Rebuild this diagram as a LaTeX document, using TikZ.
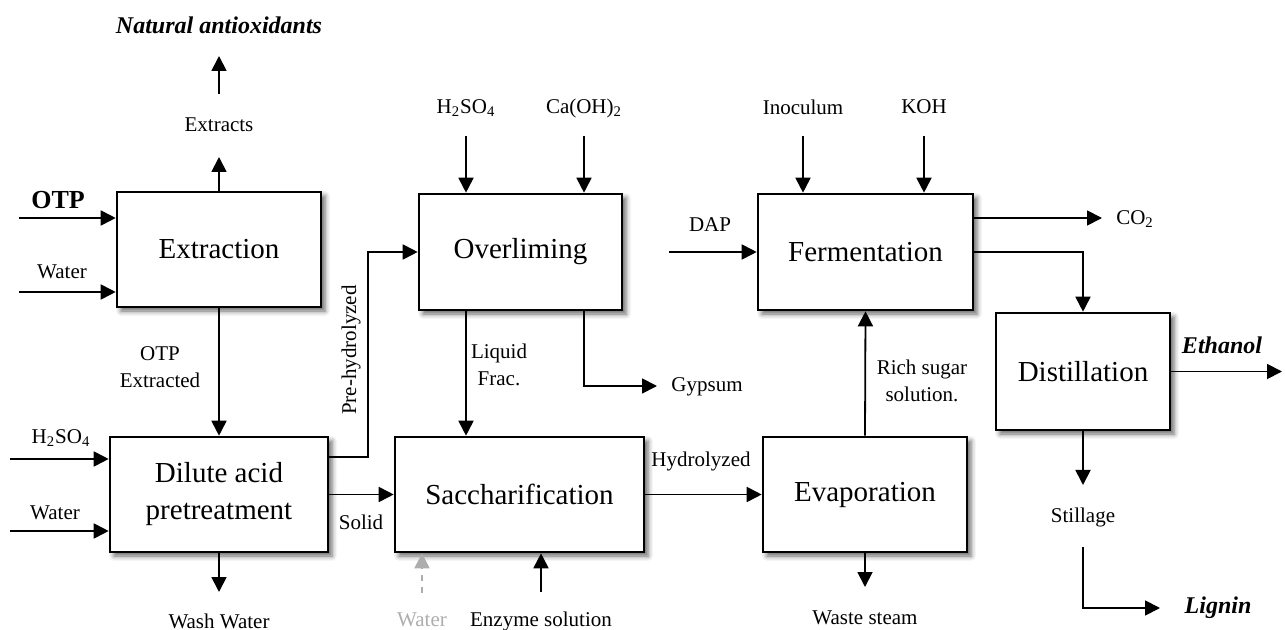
\documentclass[tikz,border=0pt]{standalone}
\usepackage{fontspec}
\setmainfont{Liberation Serif}
\usetikzlibrary{arrows.meta,shadows.blur}

\tikzset{
  unit/.style={draw, line width=1.3pt, fill=white, align=center,
    font=\fontsize{14.5}{18.5}\selectfont,
    blur shadow={shadow xshift=2pt, shadow yshift=-2pt, shadow blur radius=2.5pt, shadow opacity=60}},
  lbl/.style={font=\fontsize{10.5}{13.5}\selectfont, align=center, inner sep=0pt},
  prod/.style={font=\fontsize{12}{14}\selectfont\bfseries\itshape, inner sep=0pt},
  flow/.style={line width=0.9pt, -{Triangle[length=7.5pt,width=7.5pt]}},
  optflow/.style={flow, dashed, draw=black!32, color=black!32}
}

\begin{document}
\begin{tikzpicture}[x=0.5pt, y=-0.5pt]
\useasboundingbox (0,0) rectangle (1285,630);

% Process units
\node[unit, minimum width=102pt, minimum height=57.5pt] (ext) at (219,249.5) {Extraction};
\node[unit, minimum width=109pt, minimum height=57.5pt] (dil) at (219,494.5) {Dilute acid\\pretreatment};
\node[unit, minimum width=101.5pt, minimum height=58pt] (ovl) at (520.5,252) {Overliming};
\node[unit, minimum width=124.5pt, minimum height=57.5pt] (sac) at (519.5,494.5) {Saccharification};
\node[unit, minimum width=107.5pt, minimum height=58pt] (fer) at (865.5,252) {Fermentation};
\node[unit, minimum width=102pt, minimum height=57.5pt] (eva) at (865,494.5) {Evaporation};
\node[unit, minimum width=87pt, minimum height=58.5pt] (dis) at (1083,371.5) {Distillation};

% Stream labels
\node[lbl, font=\fontsize{13}{15}\selectfont\bfseries] (otp) at (58,200) {OTP};
\node[lbl] (water1) at (62,272) {Water};
\node[lbl] (extracts) at (219,125) {Extracts};
\node[prod] (natural) at (219,25) {Natural antioxidants};
\node[lbl] (otpext) at (160,367) {OTP\\Extracted};
\node[lbl] (acid1) at (61,438) {H\textsubscript{2}SO\textsubscript{4}};
\node[lbl] (water2) at (55,513) {Water};
\node[lbl] (wash) at (219,621) {Wash Water};
\node[lbl, rotate=90] (prehyd) at (351,350) {Pre-hydrolyzed};
\node[lbl] (solid) at (361,522) {Solid};
\node[lbl] (acid2) at (466,108) {H\textsubscript{2}SO\textsubscript{4}};
\node[lbl] (lime) at (584,108) {Ca(OH)\textsubscript{2}};
\node[lbl] (liquid) at (499,365) {Liquid\\Frac.};
\node[lbl] (gypsum) at (707,387) {Gypsum};
\node[lbl] (hydro) at (701,461) {Hydrolyzed};
\node[lbl, text=black!32] (water3) at (422,620) {Water};
\node[lbl] (enzyme) at (541,621) {Enzyme solution};
\node[lbl] (inoc) at (803,107) {Inoculum};
\node[lbl] (koh) at (924,107) {KOH};
\node[lbl] (dap) at (710,225) {DAP};
\node[lbl] (co2) at (1135,219) {CO\textsubscript{2}};
\node[lbl] (rich) at (922,381) {Rich sugar\\solution.};
\node[lbl] (waste) at (865,618) {Waste steam};
\node[prod] (ethanol) at (1222,345) {Ethanol};
\node[lbl] (still) at (1083,517) {Stillage};
\node[prod] (lignin) at (1218,608) {Lignin};

% Free ends of the streams
\coordinate (otp in) at (19,218);
\coordinate (water1 in) at (19,292);
\coordinate (acid1 in) at (10,459);
\coordinate (water2 in) at (10,531);
\coordinate (extracts tip) at (219,157);
\coordinate (natural tail) at (219,94);
\coordinate (natural tip) at (219,56);
\coordinate (wash tip) at (219,592);
\coordinate (prehyd turn) at (368,457);
\coordinate (acid2 in) at (466,136);
\coordinate (lime in) at (584,136);
\coordinate (gypsum tip) at (657,386);
\coordinate (water3 in) at (422,593);
\coordinate (enzyme in) at (541,592);
\coordinate (inoc in) at (803,136);
\coordinate (koh in) at (924,136);
\coordinate (dap in) at (669,252);
\coordinate (co2 tip) at (1102,218);
\coordinate (waste tip) at (865,587);
\coordinate (ethanol tip) at (1282,371.5);
\coordinate (still tip) at (1083,485);
\coordinate (lignin tail) at (1083,547);
\coordinate (lignin tip) at (1160,608);

% Extraction
\draw[flow] (otp in) -- (ext.west |- otp in);
\draw[flow] (water1 in) -- (ext.west |- water1 in);
\draw[flow] (ext.north) -- (extracts tip);
\draw[flow] (natural tail) -- (natural tip);
\draw[flow] (ext.south) -- (dil.north);

% Pretreatment
\draw[flow] (acid1 in) -- (dil.west |- acid1 in);
\draw[flow] (water2 in) -- (dil.west |- water2 in);
\draw[flow] (dil.south) -- (wash tip);
\draw[flow] (dil.east |- prehyd turn) -- (prehyd turn) |- (ovl.west);
\draw[flow] (dil.east) -- (sac.west);

% Overliming and saccharification
\draw[flow] (acid2 in) -- (ovl.north -| acid2 in);
\draw[flow] (lime in) -- (ovl.north -| lime in);
\draw[flow] (ovl.south -| acid2 in) -- (sac.north -| acid2 in);
\draw[flow] (ovl.south -| lime in) |- (gypsum tip);
\draw[optflow] (water3 in) -- (sac.south -| water3 in);
\draw[flow] (enzyme in) -- (sac.south -| enzyme in);
\draw[flow] (sac.east) -- (eva.west);

% Evaporation and fermentation
\draw[flow] (eva.north) -- (fer.south);
\draw[flow] (eva.south) -- (waste tip);
\draw[flow] (inoc in) -- (fer.north -| inoc in);
\draw[flow] (koh in) -- (fer.north -| koh in);
\draw[flow] (dap in) -- (fer.west);
\draw[flow] (fer.east |- co2 tip) -- (co2 tip);
\draw[flow] (fer.east) -| (dis.north);

% Distillation
\draw[flow] (dis.east) -- (ethanol tip);
\draw[flow] (dis.south) -- (still tip);
\draw[flow] (lignin tail) |- (lignin tip);
\end{tikzpicture}
\end{document}
